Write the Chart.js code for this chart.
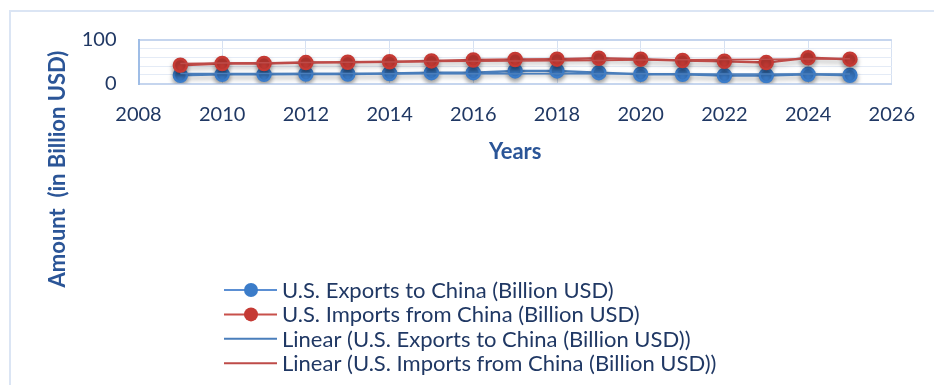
<!DOCTYPE html>
<html>
<head>
<meta charset="utf-8">
<script src="https://cdn.jsdelivr.net/npm/chart.js@4"></script>
<style>
  html, body { margin: 0; padding: 0; background: #fff; overflow: hidden; }
  #frame { position: absolute; left: 9px; top: 10px; width: 940px; height: 400px; border: 2px solid #dbe5f4; box-sizing: border-box; }
  #wrap { position: absolute; left: 0; top: 0; width: 934px; height: 385px; }
</style>
</head>
<body>
<div id="frame"></div>
<div id="wrap"><canvas id="tradeChart" width="934" height="385"></canvas></div>
<script>
      // Data
      const years = [2009, 2010, 2011, 2012, 2013, 2014, 2015, 2016, 2017, 2018, 2019, 2020, 2021, 2022, 2023, 2024, 2025];
      const exportsToChina = [19, 21, 21, 22, 22, 23, 25, 25, 29, 29, 25, 21.5, 21.5, 18.5, 18.5, 21, 19];
      const importsFromChina = [42, 46, 46, 48, 49, 50, 52, 54, 55, 56, 58, 56, 53, 51, 48, 59, 56];
      const seriesNames = ["U.S. Exports to China (Billion USD)", "U.S. Imports from China (Billion USD)"];
      const xTicks = [2008, 2026];
      const yTicks = [0, 100];

      const textColor = "#203864";
      const titleColor = "#2B5597";
      const blue = "#4A7EBB";
      const red = "#BE4B48";

      // least squares trend line over the data
      function trend(xs, ys) {
        const n = xs.length;
        const mx = xs.reduce((a, b) => a + b, 0) / n;
        const my = ys.reduce((a, b) => a + b, 0) / n;
        let sxy = 0, sxx = 0;
        xs.forEach((x, i) => { sxy += (x - mx) * (ys[i] - my); sxx += (x - mx) * (x - mx); });
        const b = sxy / sxx;
        return xs.map(x => ({ x: x, y: my + b * (x - mx) }));
      }
      const pts = ys => years.map((x, i) => ({ x: x, y: ys[i] }));

      // soft shadow under the marker series
      const shadowPlugin = {
        id: "shadow",
        beforeDatasetDraw(chart, args) {
          if (args.index > 1) return;
          const c = chart.ctx;
          c.save();
          c.shadowColor = "rgba(0,0,0,0.35)";
          c.shadowBlur = 5;
          c.shadowOffsetY = 3;
        },
        afterDatasetDraw(chart, args) {
          if (args.index > 1) return;
          chart.ctx.restore();
        }
      };

      // Excel-like vertical legend and y title
      const legendPlugin = {
        id: "sideText",
        afterDraw(chart) {
          const c = chart.ctx;
          c.save();
          c.font = "bold 22px Lato";
          c.fillStyle = titleColor;
          c.translate(58, 169);
          c.rotate(-Math.PI / 2);
          c.textAlign = "center";
          c.textBaseline = "middle";
          c.fillText("Amount  (in Billion USD)", 0, 0);
          c.restore();

          const items = [
            { text: seriesNames[0], color: "#5B8FD3", dot: "#3B7CC9" },
            { text: seriesNames[1], color: "#C8504B", dot: "#C53A34" },
            { text: "Linear (" + seriesNames[0] + ")", color: blue },
            { text: "Linear (" + seriesNames[1] + ")", color: red }
          ];
          c.save();
          c.font = "22px Lato";
          c.textBaseline = "middle";
          items.forEach((it, i) => {
            const y = 290 + i * 24.4;
            c.strokeStyle = it.color;
            c.lineWidth = 2;
            c.beginPath();
            c.moveTo(224, y);
            c.lineTo(277, y);
            c.stroke();
            if (it.dot) {
              c.fillStyle = it.dot;
              c.beginPath();
              c.arc(251, y, 7, 0, Math.PI * 2);
              c.fill();
            }
            c.fillStyle = textColor;
            c.fillText(it.text, 282, y + 1);
          });
          c.restore();
        }
      };

      const ctxTrade = document.getElementById("tradeChart").getContext("2d");
      const tradeChart = new Chart(ctxTrade, {
        type: "scatter",
        data: {
          datasets: [
            {
              label: seriesNames[0],
              data: pts(exportsToChina),
              showLine: true,
              borderColor: blue,
              borderWidth: 2.5,
              backgroundColor: "#3B7CC9",
              pointBorderColor: "#3B7CC9",
              pointRadius: 6.5,
              pointHoverRadius: 6.5,
              order: 3
            },
            {
              label: seriesNames[1],
              data: pts(importsFromChina),
              showLine: true,
              borderColor: red,
              borderWidth: 2.5,
              backgroundColor: "#C53A34",
              pointBorderColor: "#C53A34",
              pointRadius: 6.5,
              pointHoverRadius: 6.5,
              order: 2
            },
            {
              label: "Linear (" + seriesNames[0] + ")",
              data: trend(years, exportsToChina),
              showLine: true,
              borderColor: blue,
              borderWidth: 1.5,
              pointRadius: 0,
              order: 1
            },
            {
              label: "Linear (" + seriesNames[1] + ")",
              data: trend(years, importsFromChina),
              showLine: true,
              borderColor: red,
              borderWidth: 1.5,
              pointRadius: 0,
              order: 0
            }
          ]
        },
        options: {
          responsive: false,
          animation: false,
          layout: { padding: { top: 40, right: 40, left: 0, bottom: 0 } },
          plugins: {
            legend: { display: false },
            tooltip: { enabled: false }
          },
          scales: {
            x: {
              type: "linear",
              min: xTicks[0],
              max: xTicks[1],
              ticks: {
                stepSize: 2,
                padding: 19,
                autoSkip: false,
                maxRotation: 0,
                color: textColor,
                font: { family: "Lato", size: 20 },
                callback: v => String(v)
              },
              grid: { color: "#d6e1f2", drawTicks: false },
              border: { color: "#c5d5ee", width: 2 },
              title: {
                display: true,
                text: "Years",
                color: titleColor,
                font: { family: "Lato", size: 22, weight: "bold" },
                padding: { top: 0, bottom: 220 }
              },
              afterFit: scale => { scale.height = 301.5; }
            },
            y: {
              min: yTicks[0],
              max: yTicks[1],
              ticks: {
                stepSize: 20,
                padding: 22,
                autoSkip: false,
                color: textColor,
                font: { family: "Lato", size: 20 },
                callback: v => (yTicks.includes(v) ? String(v) : "")
              },
              grid: {
                drawTicks: false,
                color: c => (yTicks.includes(c.tick.value) ? "#c5d5ee" : "#e4ebf6"),
                lineWidth: c => (yTicks.includes(c.tick.value) ? 2 : 1)
              },
              border: { color: "#9fbde6", width: 2 },
              afterFit: scale => { scale.width = 138.5; }
            }
          }
        },
        plugins: [shadowPlugin, legendPlugin]
      });
</script>
</body>
</html>
